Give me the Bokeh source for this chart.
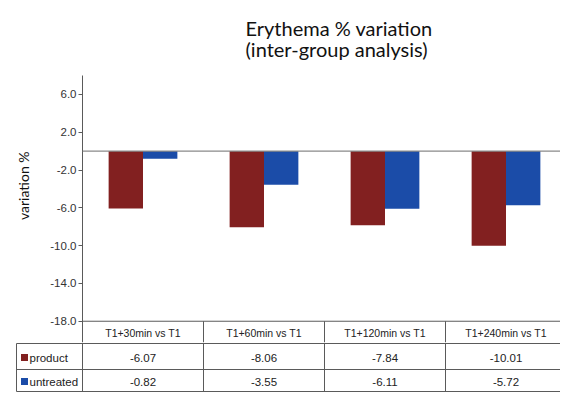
from bokeh.plotting import figure
from bokeh.models import Range1d, FixedTicker, ColumnDataSource, Title, Span, PrintfTickFormatter
from bokeh.embed import file_html
from bokeh.resources import INLINE
from bokeh.core.properties import value

# ---- data ----
categories = ["T1+30min vs T1", "T1+60min vs T1", "T1+120min vs T1", "T1+240min vs T1"]
product = [-6.07, -8.06, -7.84, -10.01]
untreated = [-0.82, -3.55, -6.11, -5.72]
series_names = ["product", "untreated"]
y_ticks = [6.0, 2.0, -2.0, -6.0, -10.0, -14.0, -18.0]
title_text = "Erythema % variation\n(inter-group analysis)"
y_label = "variation %"

# ---- style ----
RED = "#822020"
BLUE = "#1b4ca8"
LINE = "#5a5a5a"
TXT = "#222222"
SANS = "Liberation Sans"
HUMAN = "Lato"

n = len(categories)
centers = [i + 0.5 for i in range(n)]
off = 0.142
bw = 0.284

W = 560
BL = 82                         # left border of the chart
PX = 121.0                      # pixels per category
X_END = (W - BL) / PX
Y_MIN, Y_MAX = -20.25, 8.0

# ---- chart figure ----
p = figure(width=W, height=342, x_range=Range1d(0, X_END), y_range=Range1d(Y_MIN, Y_MAX),
           output_backend="svg", toolbar_location=None, x_axis_location=None,
           min_border_left=BL, min_border_right=0, min_border_top=75, min_border_bottom=0)
p.outline_line_color = None
p.grid.visible = False
p.background_fill_color = "white"
p.border_fill_color = "white"

src = ColumnDataSource(dict(
    xp=[c - off for c in centers], xu=[c + off for c in centers],
    product=product, untreated=untreated, xc=centers, label=categories))

p.vbar(x="xp", top="product", bottom=0, width=bw, source=src, fill_color=RED, line_color=None)
p.vbar(x="xu", top="untreated", bottom=0, width=bw, source=src, fill_color=BLUE, line_color=None)

p.add_layout(Span(location=0, dimension="width", line_color="#8a8a8a", line_width=1.2))
p.add_layout(Span(location=y_ticks[-1], dimension="width", line_color=LINE, line_width=1))

# header row of the table (inside chart figure)
p.segment(x0=[c - 0.5 for c in centers[1:]], x1=[c - 0.5 for c in centers[1:]],
          y0=[y_ticks[-1]] * (n - 1), y1=[Y_MIN] * (n - 1), line_color=LINE, line_width=1)
p.text(x="xc", y=-19.2, text="label", source=src, text_align="center", text_baseline="middle",
       text_font=value(SANS), text_font_size="10.5px", text_color=TXT)

ax = p.yaxis[0]
ax.ticker = FixedTicker(ticks=y_ticks)
ax.formatter = PrintfTickFormatter(format="%.1f")
ax.major_tick_out = 4
ax.major_tick_in = 0
ax.minor_tick_line_color = None
ax.axis_line_color = LINE
ax.major_tick_line_color = LINE
ax.major_label_text_font = SANS
ax.major_label_text_font_size = "11.5px"
ax.major_label_text_color = "#333333"
ax.major_label_standoff = 2

p.title.text = title_text
p.title.align = "left"
p.title.offset = 163
p.title.text_font = HUMAN
p.title.text_font_size = "20px"
p.title.text_font_style = "normal"
p.title.text_color = "#111111"
p.title.text_line_height = 0.88
p.title.standoff = 28

p.add_layout(Title(text=y_label, align="right", vertical_align="top", offset=76, standoff=27,
                   text_font=HUMAN, text_font_size="14px", text_font_style="normal",
                   text_color="#111111"), "left")

# ---- table figure ----
TBL_L = 15
LEFT = X_END - (W - TBL_L) / PX
t = figure(width=W, height=56, x_range=Range1d(LEFT, X_END), y_range=Range1d(50, -1),
           output_backend="svg", toolbar_location=None, x_axis_location=None, y_axis_location=None,
           min_border_left=TBL_L, min_border_right=0, min_border_top=0, min_border_bottom=5)
t.outline_line_color = None
t.grid.visible = False

TL = LEFT + 1.0 / PX
rows_y = [14, 38]
t.segment(x0=[TL] * 3, x1=[X_END] * 3, y0=[0, 26, 48], y1=[0, 26, 48], line_color=LINE, line_width=1)
t.segment(x0=[TL], x1=[TL], y0=[0], y1=[48], line_color=LINE, line_width=1)
t.segment(x0=[c - 0.5 for c in centers], x1=[c - 0.5 for c in centers],
          y0=[-1] * n, y1=[48] * n, line_color=LINE, line_width=1)

t.scatter(x=[TL + 8.0 / PX] * 2, y=rows_y, marker="square", size=7, fill_color=[RED, BLUE], line_color=None)
t.text(x=[TL + 13.0 / PX] * 2, y=rows_y, text=series_names, text_align="left", text_baseline="middle",
       text_font=value(SANS), text_font_size="11.5px", text_color=TXT)

tsrc = ColumnDataSource(dict(
    x=centers * 2, y=[rows_y[0]] * n + [rows_y[1]] * n,
    v=[f"{v:.2f}" for v in product] + [f"{v:.2f}" for v in untreated]))
t.text(x="x", y="y", text="v", source=tsrc, text_align="center", text_baseline="middle",
       text_font=value(SANS), text_font_size="11.5px", text_color=TXT)

open("out.html", "w").write(file_html([p, t], INLINE))
